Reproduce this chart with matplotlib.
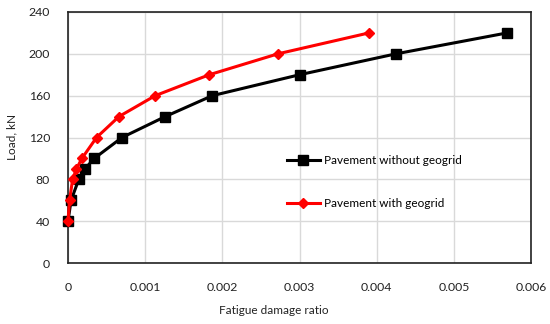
import matplotlib
matplotlib.use("Agg")
import matplotlib.pyplot as plt

load_without = [40, 60, 80, 90, 100, 120, 140, 160, 180, 200, 220]
ratio_without = [0.0, 0.00004, 0.00014, 0.00022, 0.00034, 0.0007, 0.00126, 0.00187, 0.003, 0.00425, 0.00569]
load_with = [40, 60, 80, 90, 100, 120, 140, 160, 180, 200, 220]
ratio_with = [0.0, 0.00002, 0.00006, 0.00011, 0.00018, 0.00037, 0.00066, 0.00113, 0.00183, 0.00272, 0.0039]

xticks = [0, 0.001, 0.002, 0.003, 0.004, 0.005, 0.006]
xticklabels = ["0", "0.001", "0.002", "0.003", "0.004", "0.005", "0.006"]
yticks = [0, 40, 80, 120, 160, 200, 240]

plt.rcParams['font.family'] = ['Lato', 'DejaVu Sans']

fig = plt.figure(figsize=(5.5, 3.24), dpi=100)
ax = fig.add_axes([68/550, 1-263/324, (531-68)/550, (263-12)/324])

ax.plot(ratio_without, load_without, color='black', lw=2.2, marker='s', ms=6.5,
        label='Pavement without geogrid', clip_on=False, zorder=3)
ax.plot(ratio_with, load_with, color='#ff0000', lw=2.2, marker='D', ms=5.5,
        label='Pavement with geogrid', clip_on=False, zorder=4)

ax.set_xlim(0, 0.006)
ax.set_ylim(0, 240)
ax.set_xticks(xticks)
ax.set_xticklabels(xticklabels)
ax.set_yticks(yticks)
ax.grid(True, color='#d9d9d9', lw=1)
ax.set_axisbelow(True)
ax.tick_params(length=0, labelsize=8.8, colors='#222222')
ax.tick_params(axis='x', pad=14)
ax.tick_params(axis='y', pad=13)
for s in ax.spines.values():
    s.set_color('#222222')
    s.set_linewidth(1.2)

fig.text(274/550, 1-311/324, 'Fatigue damage ratio', ha='center', va='center', fontsize=8.5, color='#222222')
fig.text(12/550, 1-137/324, 'Load, kN', ha='center', va='center', rotation=90, fontsize=8.5, color='#222222')

leg = ax.legend(loc='upper left', bbox_to_anchor=((282-68)/463, 1-(150-12)/251),
                frameon=False, fontsize=8.5, labelspacing=2.75, handlelength=2.8,
                handletextpad=0.4, borderaxespad=0)

fig.savefig('out.png', dpi=100)
